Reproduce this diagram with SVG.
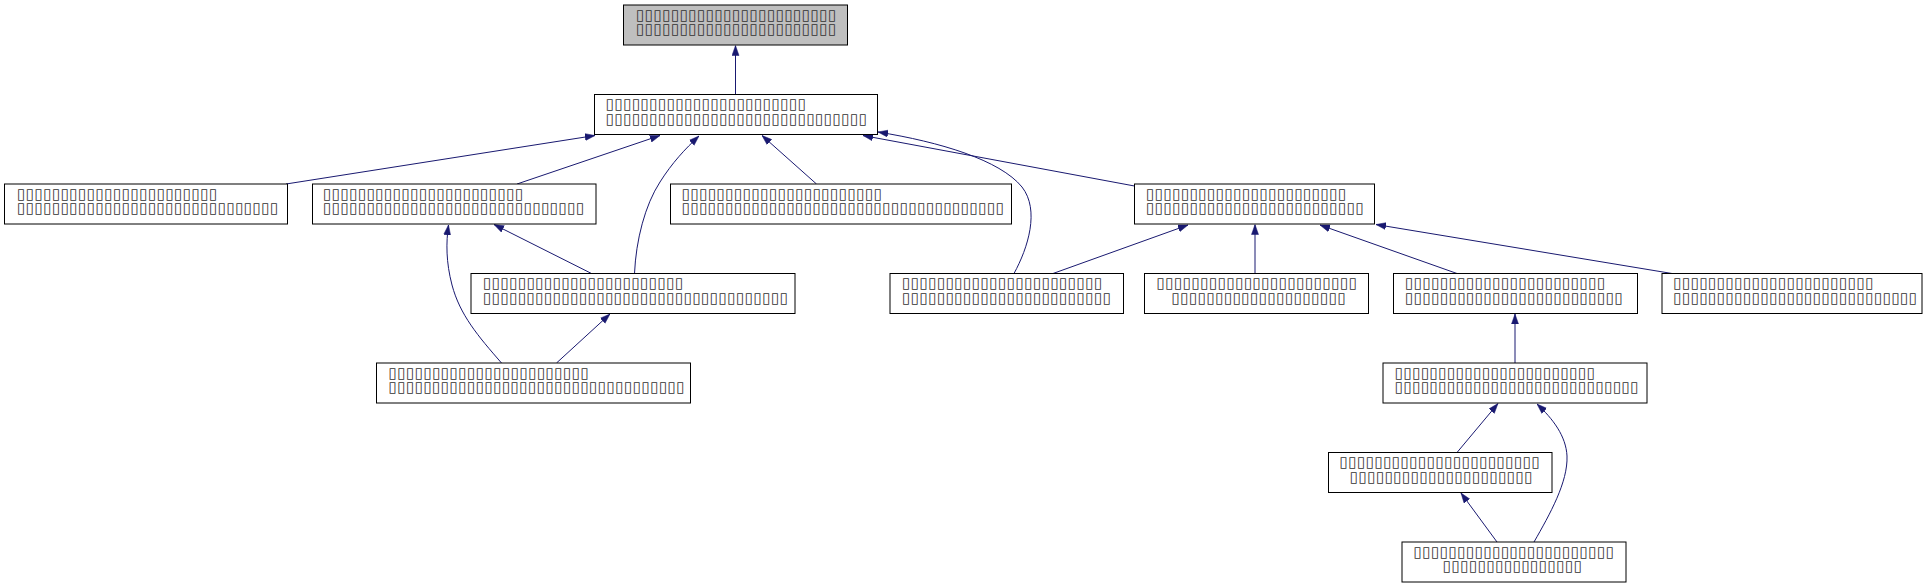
<svg xmlns="http://www.w3.org/2000/svg" width="1927" height="588" viewBox="0 0 1927 588">
<style>
.n rect{fill:#fff;stroke:#000;stroke-width:1}
.n.top rect{fill:#bfbfbf}
.n text{font-family:"DejaVu Sans",sans-serif;font-size:15px;fill:#333}
.e path{fill:none;stroke:#191970;stroke-width:1;marker-end:url(#ah)}
</style>
<defs>
<marker id="ah" markerUnits="userSpaceOnUse" markerWidth="10" markerHeight="8" refX="10" refY="3.5" orient="auto" viewBox="0 0 10 7">
<path d="M0,0 L10,3.5 L0,7 z" fill="#191970" stroke="#191970" stroke-width="0.5"/>
</marker>
</defs>
<rect width="1927" height="588" fill="#fff"/>
<g id="connectors" class="e">
<path d="M735.5,94.5 L735.5,45.5"/>
<path d="M286,184 L595,135.5"/>
<path d="M517,184 L660,135.5"/>
<path d="M634.5,273.5 C636,240 645,205 660,182 C672,163 685,149 699,136"/>
<path d="M816.5,184 L762,135.5"/>
<path d="M1134.5,186 L863,135.5"/>
<path d="M1014,273.5 C1028,248 1040,210 1022,187 C1000,160 940,142 878,132"/>
<path d="M1255,273.5 L1255,224.5"/>
<path d="M1053,273.5 L1188,225"/>
<path d="M1457,273.5 L1320,225"/>
<path d="M1672,273.5 L1376,224.5"/>
<path d="M1515,363 L1515,314"/>
<path d="M1457,452.5 L1498,403.5"/>
<path d="M1534,542 C1550,514 1568,482 1567,456 C1566,436 1553,419 1537,404"/>
<path d="M1497,542 L1461,493"/>
<path d="M591.5,273.5 L494,224.5"/>
<path d="M501.5,363 C478,336 460,315 452,285 C446,262 446,243 448.5,225"/>
<path d="M556.5,363 L610,314"/>
</g>
<g id="node-top" class="n top">
<rect x="623.5" y="5" width="224" height="40"/>
<text><tspan x="636" y="19.5" textLength="200.3" lengthAdjust="spacing">▯▯▯▯▯▯▯▯▯▯▯▯▯▯▯▯▯▯▯▯▯▯▯</tspan><tspan x="636" y="34" textLength="200.3" lengthAdjust="spacing">▯▯▯▯▯▯▯▯▯▯▯▯▯▯▯▯▯▯▯▯▯▯▯</tspan></text>
</g>
<g id="node-2" class="n">
<rect x="594.5" y="94.5" width="283" height="40"/>
<text><tspan x="605.7" y="109" textLength="200.3" lengthAdjust="spacing">▯▯▯▯▯▯▯▯▯▯▯▯▯▯▯▯▯▯▯▯▯▯▯</tspan><tspan x="605.7" y="123.5" textLength="261.3" lengthAdjust="spacing">▯▯▯▯▯▯▯▯▯▯▯▯▯▯▯▯▯▯▯▯▯▯▯▯▯▯▯▯▯▯</tspan></text>
</g>
<g id="node-a" class="n">
<rect x="4.5" y="184" width="283" height="40"/>
<text><tspan x="17" y="198.5" textLength="200.3" lengthAdjust="spacing">▯▯▯▯▯▯▯▯▯▯▯▯▯▯▯▯▯▯▯▯▯▯▯</tspan><tspan x="17" y="213" textLength="261.3" lengthAdjust="spacing">▯▯▯▯▯▯▯▯▯▯▯▯▯▯▯▯▯▯▯▯▯▯▯▯▯▯▯▯▯▯</tspan></text>
</g>
<g id="node-b" class="n">
<rect x="312.5" y="184" width="283.5" height="40"/>
<text><tspan x="323" y="198.5" textLength="200.3" lengthAdjust="spacing">▯▯▯▯▯▯▯▯▯▯▯▯▯▯▯▯▯▯▯▯▯▯▯</tspan><tspan x="323" y="213" textLength="261.3" lengthAdjust="spacing">▯▯▯▯▯▯▯▯▯▯▯▯▯▯▯▯▯▯▯▯▯▯▯▯▯▯▯▯▯▯</tspan></text>
</g>
<g id="node-c" class="n">
<rect x="670.5" y="184" width="341" height="40"/>
<text><tspan x="681.7" y="198.5" textLength="200.3" lengthAdjust="spacing">▯▯▯▯▯▯▯▯▯▯▯▯▯▯▯▯▯▯▯▯▯▯▯</tspan><tspan x="681.7" y="213" textLength="322.3" lengthAdjust="spacing">▯▯▯▯▯▯▯▯▯▯▯▯▯▯▯▯▯▯▯▯▯▯▯▯▯▯▯▯▯▯▯▯▯▯▯▯▯</tspan></text>
</g>
<g id="node-d" class="n">
<rect x="1134.5" y="184" width="240" height="40"/>
<text><tspan x="1146" y="198.5" textLength="200.3" lengthAdjust="spacing">▯▯▯▯▯▯▯▯▯▯▯▯▯▯▯▯▯▯▯▯▯▯▯</tspan><tspan x="1146" y="213" textLength="217.8" lengthAdjust="spacing">▯▯▯▯▯▯▯▯▯▯▯▯▯▯▯▯▯▯▯▯▯▯▯▯▯</tspan></text>
</g>
<g id="node-e" class="n">
<rect x="471" y="273.5" width="324" height="40"/>
<text><tspan x="483" y="288" textLength="200.3" lengthAdjust="spacing">▯▯▯▯▯▯▯▯▯▯▯▯▯▯▯▯▯▯▯▯▯▯▯</tspan><tspan x="483" y="302.5" textLength="304.9" lengthAdjust="spacing">▯▯▯▯▯▯▯▯▯▯▯▯▯▯▯▯▯▯▯▯▯▯▯▯▯▯▯▯▯▯▯▯▯▯▯</tspan></text>
</g>
<g id="node-f" class="n">
<rect x="890" y="273.5" width="233.5" height="40"/>
<text><tspan x="902" y="288" textLength="200.3" lengthAdjust="spacing">▯▯▯▯▯▯▯▯▯▯▯▯▯▯▯▯▯▯▯▯▯▯▯</tspan><tspan x="902" y="302.5" textLength="209" lengthAdjust="spacing">▯▯▯▯▯▯▯▯▯▯▯▯▯▯▯▯▯▯▯▯▯▯▯▯</tspan></text>
</g>
<g id="node-g" class="n">
<rect x="1144.5" y="273.5" width="224" height="40"/>
<text><tspan x="1156.6" y="288" textLength="200.3" lengthAdjust="spacing">▯▯▯▯▯▯▯▯▯▯▯▯▯▯▯▯▯▯▯▯▯▯▯</tspan><tspan x="1171.5" y="302.5" textLength="174.2" lengthAdjust="spacing">▯▯▯▯▯▯▯▯▯▯▯▯▯▯▯▯▯▯▯▯</tspan></text>
</g>
<g id="node-h" class="n">
<rect x="1393.5" y="273.5" width="244" height="40"/>
<text><tspan x="1405" y="288" textLength="200.3" lengthAdjust="spacing">▯▯▯▯▯▯▯▯▯▯▯▯▯▯▯▯▯▯▯▯▯▯▯</tspan><tspan x="1405" y="302.5" textLength="217.8" lengthAdjust="spacing">▯▯▯▯▯▯▯▯▯▯▯▯▯▯▯▯▯▯▯▯▯▯▯▯▯</tspan></text>
</g>
<g id="node-i" class="n">
<rect x="1662" y="273.5" width="260" height="40"/>
<text><tspan x="1673.2" y="288" textLength="200.3" lengthAdjust="spacing">▯▯▯▯▯▯▯▯▯▯▯▯▯▯▯▯▯▯▯▯▯▯▯</tspan><tspan x="1673.2" y="302.5" textLength="243.9" lengthAdjust="spacing">▯▯▯▯▯▯▯▯▯▯▯▯▯▯▯▯▯▯▯▯▯▯▯▯▯▯▯▯</tspan></text>
</g>
<g id="node-j" class="n">
<rect x="376.5" y="363" width="314" height="40"/>
<text><tspan x="388.5" y="377.5" textLength="200.3" lengthAdjust="spacing">▯▯▯▯▯▯▯▯▯▯▯▯▯▯▯▯▯▯▯▯▯▯▯</tspan><tspan x="388.5" y="392" textLength="296.1" lengthAdjust="spacing">▯▯▯▯▯▯▯▯▯▯▯▯▯▯▯▯▯▯▯▯▯▯▯▯▯▯▯▯▯▯▯▯▯▯</tspan></text>
</g>
<g id="node-k" class="n">
<rect x="1383" y="363" width="264" height="40"/>
<text><tspan x="1394.7" y="377.5" textLength="200.3" lengthAdjust="spacing">▯▯▯▯▯▯▯▯▯▯▯▯▯▯▯▯▯▯▯▯▯▯▯</tspan><tspan x="1394.7" y="392" textLength="243.9" lengthAdjust="spacing">▯▯▯▯▯▯▯▯▯▯▯▯▯▯▯▯▯▯▯▯▯▯▯▯▯▯▯▯</tspan></text>
</g>
<g id="node-l" class="n">
<rect x="1328.5" y="452.5" width="223.5" height="40"/>
<text><tspan x="1339.5" y="467" textLength="200.3" lengthAdjust="spacing">▯▯▯▯▯▯▯▯▯▯▯▯▯▯▯▯▯▯▯▯▯▯▯</tspan><tspan x="1349.7" y="481.5" textLength="182.9" lengthAdjust="spacing">▯▯▯▯▯▯▯▯▯▯▯▯▯▯▯▯▯▯▯▯▯</tspan></text>
</g>
<g id="node-m" class="n">
<rect x="1402" y="542" width="224" height="40"/>
<text><tspan x="1413.6" y="556.5" textLength="200.3" lengthAdjust="spacing">▯▯▯▯▯▯▯▯▯▯▯▯▯▯▯▯▯▯▯▯▯▯▯</tspan><tspan x="1442.7" y="571" textLength="139.4" lengthAdjust="spacing">▯▯▯▯▯▯▯▯▯▯▯▯▯▯▯▯</tspan></text>
</g>
</svg>
